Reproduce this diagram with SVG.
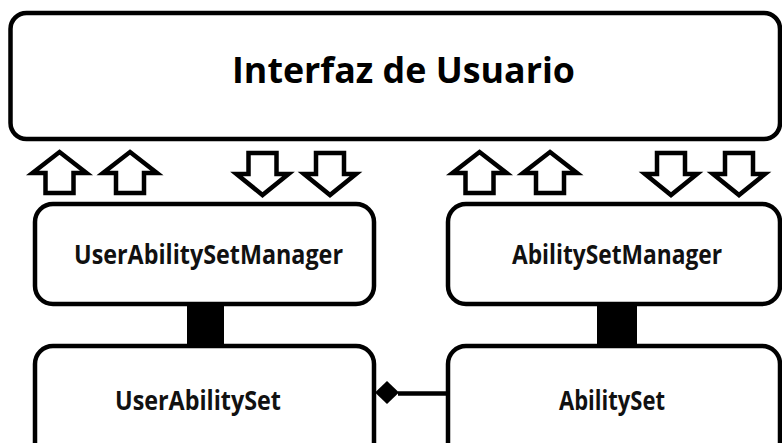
<svg xmlns="http://www.w3.org/2000/svg" xmlns:xlink="http://www.w3.org/1999/xlink" width="782" height="443" viewBox="0 0 782 443">
  <style>
    .box { fill: #ffffff; stroke: #000000; stroke-width: 4.5; }
    .title { font-family: "Open Sans", "Liberation Sans", sans-serif; font-weight: 700; font-size: 36px; fill: #000000; }
    .label { font-family: "Open Sans", "Liberation Sans", sans-serif; font-weight: 700; font-size: 26.5px; fill: #111111; }
    .arrow { fill: #ffffff; stroke: #000000; stroke-width: 4.5; stroke-linejoin: miter; }
    .link { stroke: #000000; stroke-width: 4.5; fill: none; }
  </style>
  <defs>
    <!-- block arrows, drawn with the tip / top edge at the origin -->
    <path id="upArrow" class="arrow" d="M0,0 L27,21 L14,21 L14,41 L-14,41 L-14,21 L-27,21 Z"/>
    <path id="downArrow" class="arrow" d="M-14,0 L14,0 L14,21 L26,21 L0,42 L-26,21 L-14,21 Z"/>
  </defs>

  <rect width="782" height="443" fill="#ffffff"/>

  <g id="connectors">
    <!-- thick links between managers and sets -->
    <rect x="187" y="304" width="37" height="42" fill="#000000"/>
    <rect x="597" y="304" width="40" height="42" fill="#000000"/>
    <!-- composition: AbilitySet to UserAbilitySet -->
    <line class="link" x1="398" y1="393.5" x2="448" y2="393.5"/>
    <polygon points="375,392.5 387,381 399,392.5 387,404" fill="#000000"/>
    <!-- data flow towards / from the user interface -->
    <use xlink:href="#upArrow" x="59.5" y="152"/>
    <use xlink:href="#upArrow" x="130" y="152"/>
    <use xlink:href="#downArrow" x="262.5" y="153"/>
    <use xlink:href="#downArrow" x="330" y="153"/>
    <use xlink:href="#upArrow" x="479.5" y="152"/>
    <use xlink:href="#upArrow" x="550" y="152"/>
    <use xlink:href="#downArrow" x="671" y="153"/>
    <use xlink:href="#downArrow" x="739" y="153"/>
  </g>

  <g id="interfaz-usuario">
    <rect class="box" x="10.5" y="13" width="769.5" height="126" rx="16" ry="16"/>
    <text class="title" x="232" y="83" textLength="343" lengthAdjust="spacingAndGlyphs">Interfaz de Usuario</text>
  </g>

  <g id="user-ability-set-manager">
    <rect class="box" x="35" y="204" width="339" height="100" rx="18" ry="18"/>
    <text class="label" x="74" y="264" textLength="269" lengthAdjust="spacingAndGlyphs">UserAbilitySetManager</text>
  </g>

  <g id="ability-set-manager">
    <rect class="box" x="448" y="204" width="332" height="100" rx="18" ry="18"/>
    <text class="label" x="512" y="264" textLength="210" lengthAdjust="spacingAndGlyphs">AbilitySetManager</text>
  </g>

  <g id="user-ability-set">
    <rect class="box" x="35" y="346" width="339" height="120" rx="18" ry="18"/>
    <text class="label" x="115" y="410" textLength="166" lengthAdjust="spacingAndGlyphs">UserAbilitySet</text>
  </g>

  <g id="ability-set">
    <rect class="box" x="448" y="346" width="332" height="120" rx="18" ry="18"/>
    <text class="label" x="559" y="410" textLength="106" lengthAdjust="spacingAndGlyphs">AbilitySet</text>
  </g>
</svg>
